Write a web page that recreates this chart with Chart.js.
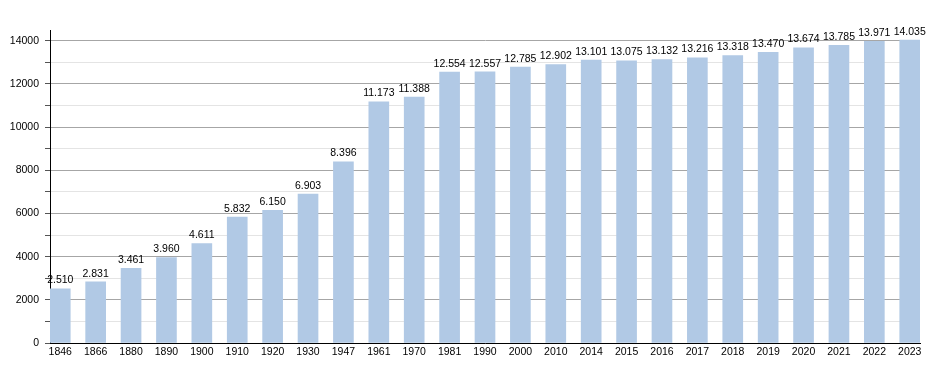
<!DOCTYPE html>
<html>
<head>
<meta charset="utf-8">
<script src="https://cdn.jsdelivr.net/npm/chart.js@4/dist/chart.umd.min.js"></script>
<style>
  body { margin: 0; background: #fff; }
</style>
</head>
<body>
<canvas id="myChart" width="950" height="373"></canvas>
<script>
// data
const years = [1846, 1866, 1880, 1890, 1900, 1910, 1920, 1930, 1947, 1961, 1970, 1981, 1990,
               2000, 2010, 2014, 2015, 2016, 2017, 2018, 2019, 2020, 2021, 2022, 2023];
const population = [2510, 2831, 3461, 3960, 4611, 5832, 6150, 6903, 8396, 11173, 11388, 12554, 12557,
                     12785, 12902, 13101, 13075, 13132, 13216, 13318, 13470, 13674, 13785, 13971, 14035];
const yTicks = [0, 1000, 2000, 3000, 4000, 5000, 6000, 7000, 8000, 9000, 10000, 11000, 12000, 13000, 14000];

const fontFamily = '"Liberation Sans", Arial, sans-serif';

// value labels above each bar
const valueLabels = {
    id: 'valueLabels',
    afterDatasetsDraw(chart) {
        const ctx = chart.ctx;
        const meta = chart.getDatasetMeta(0);
        ctx.save();
        ctx.font = '10.5px ' + fontFamily;
        ctx.fillStyle = '#000';
        ctx.textAlign = 'center';
        ctx.textBaseline = 'bottom';
        meta.data.forEach((bar, i) => {
            const txt = population[i].toLocaleString('de-DE');
            ctx.fillText(txt, bar.x, bar.y - 3);
        });
        ctx.restore();
    }
};

const ctx = document.getElementById('myChart').getContext('2d');
const myChart = new Chart(ctx, {
    type: 'bar',
    data: {
        datasets: [{
            data: population.map((v, i) => ({ x: i, y: v })),
            backgroundColor: '#b1c9e5',
            borderWidth: 0,
            barThickness: 20
        }]
    },
    options: {
        responsive: false,
        animation: false,
        layout: { padding: { left: 0, right: 30, top: 30, bottom: 0 } },
        plugins: {
            legend: { display: false },
            tooltip: { enabled: false }
        },
        scales: {
            x: {
                type: 'linear',
                offset: false,
                min: -0.29,
                max: years.length - 1 + 0.29,
                afterBuildTicks: scale => {
                    scale.ticks = years.map((y, i) => ({ value: i }));
                },
                afterFit: scale => { scale.height = 30; },
                ticks: {
                    callback: v => years[v],
                    color: '#000',
                    font: { size: 10.5, family: fontFamily },
                    padding: 3,
                    maxRotation: 0,
                    autoSkip: false
                },
                grid: { display: false, drawTicks: false },
                border: { display: true, color: '#000', width: 1 }
            },
            y: {
                min: 0,
                max: 14500,
                afterBuildTicks: scale => {
                    scale.ticks = yTicks.map(v => ({ value: v }));
                },
                afterFit: scale => { scale.width = 50; },
                ticks: {
                    callback: v => (v % 2000 === 0 ? v : ''),
                    color: '#000',
                    font: { size: 10.5, family: fontFamily },
                    padding: 6
                },
                grid: {
                    color: c => (c.tick && c.tick.value % 2000 !== 0 ? '#e4e4e4' : '#a6a6a6'),
                    tickColor: '#555',
                    tickLength: 5,
                    lineWidth: 1
                },
                border: { display: true, color: '#000', width: 1 }
            }
        }
    },
    plugins: [valueLabels]
});
</script>
</body>
</html>
